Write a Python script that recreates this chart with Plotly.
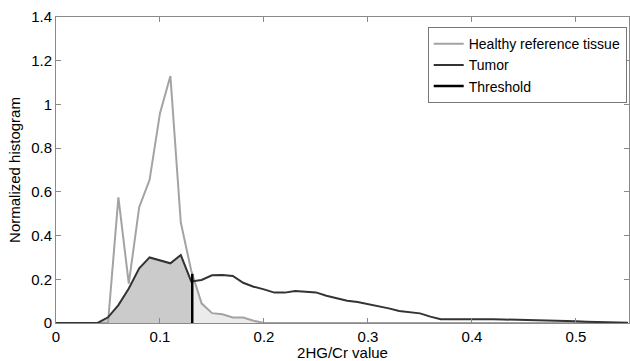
import numpy as np
import plotly.graph_objects as go

# bin centres (2HG/Cr value)
x_bins = [round(0.01 * i, 2) for i in range(56)]  # 0.00 .. 0.55

healthy = [0, 0, 0, 0, 0, 0, 0.575, 0.18, 0.53, 0.655, 0.96, 1.13, 0.46, 0.24,
           0.09, 0.045, 0.04, 0.025, 0.025, 0.01, 0] + [0] * 35

tumor = [0, 0, 0, 0, 0, 0.026, 0.082, 0.158, 0.25, 0.30, 0.288, 0.273, 0.311,
         0.19, 0.197, 0.218, 0.22, 0.215, 0.184, 0.166, 0.154, 0.139, 0.139,
         0.146, 0.143, 0.14, 0.125, 0.113, 0.102, 0.096, 0.087, 0.078, 0.067,
         0.055, 0.05, 0.044, 0.029, 0.017, 0.017, 0.017, 0.017, 0.02, 0.017,
         0.016, 0.015, 0.014, 0.013, 0.013, 0.013, 0.01, 0.008, 0.006, 0.005,
         0.003, 0.002, 0.001]

threshold = 0.131

x_ticks = [0, 0.1, 0.2, 0.3, 0.4, 0.5]
x_tick_labels = ["0", "0.1", "0.2", "0.3", "0.4", "0.5"]
y_ticks = [0, 0.2, 0.4, 0.6, 0.8, 1, 1.2, 1.4]
y_tick_labels = ["0", "0.2", "0.4", "0.6", "0.8", "1", "1.2", "1.4"]

xa = np.array(x_bins)
ha = np.array(healthy)
ta = np.array(tumor)
t_at_thr = float(np.interp(threshold, xa, ta))
h_at_thr = float(np.interp(threshold, xa, ha))

# shaded regions built from the data
left_mask = xa < threshold
fx1 = list(xa[left_mask]) + [threshold, threshold]
fy1 = list(ta[left_mask]) + [t_at_thr, 0]
right_mask = (xa > threshold) & (xa <= 0.2)
fx2 = [threshold, threshold] + list(xa[right_mask])
fy2 = [0, h_at_thr] + list(ha[right_mask])

FONT = "Liberation Sans, Arial, Helvetica, sans-serif"

fig = go.Figure()
fig.add_trace(go.Scatter(x=fx1, y=fy1, fill="toself", fillcolor="#cbcbcb",
                         mode="none", showlegend=False, hoverinfo="skip"))
fig.add_trace(go.Scatter(x=fx2, y=fy2, fill="toself", fillcolor="#ebebeb",
                         mode="none", showlegend=False, hoverinfo="skip"))
fig.add_trace(go.Scatter(x=x_bins, y=healthy, mode="lines", name="Healthy reference tissue",
                         line=dict(color="#a3a3a3", width=2)))
fig.add_trace(go.Scatter(x=x_bins, y=tumor, mode="lines", name="Tumor",
                         line=dict(color="#333333", width=2)))
fig.add_trace(go.Scatter(x=[threshold, threshold], y=[0, h_at_thr], mode="lines",
                         name="Threshold", line=dict(color="#000000", width=2.5)))

axis_common = dict(showline=True, linecolor="#8a8a8a", linewidth=1, mirror="ticks",
                   ticks="inside", ticklen=5, tickcolor="#8a8a8a", showgrid=False,
                   zeroline=False, tickfont=dict(size=15, color="#000000", family=FONT))

fig.update_xaxes(range=[0, 0.551], tickvals=x_ticks, ticktext=x_tick_labels,
                 title=dict(text="2HG/Cr value", font=dict(size=15, color="#000", family=FONT), standoff=4),
                 **axis_common)
fig.update_yaxes(range=[0, 1.4], tickvals=y_ticks, ticktext=y_tick_labels,
                 title=dict(text="Normalized histogram", font=dict(size=15, color="#000", family=FONT), standoff=6),
                 **axis_common)

fig.update_layout(
    width=630, height=361,
    margin=dict(l=56, r=1, t=17, b=38, autoexpand=False),
    plot_bgcolor="white", paper_bgcolor="white",
    font=dict(family=FONT, size=15, color="#000"),
    legend=dict(x=0.996, xanchor="right", y=0.967, yanchor="top",
                bordercolor="#777777", borderwidth=1, bgcolor="white",
                font=dict(size=14, family=FONT, color="#000"),
                tracegroupgap=0, itemwidth=30),
    showlegend=True,
)

fig.write_html("out.html", config={"displayModeBar": False},
               post_script="document.body.style.margin='0';document.body.style.padding='0';")
